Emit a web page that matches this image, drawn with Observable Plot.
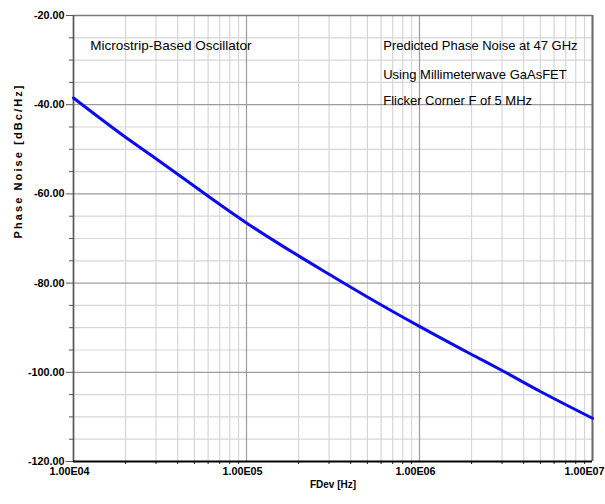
<!DOCTYPE html>
<html>
<head>
<meta charset="utf-8">
<script src="https://cdn.jsdelivr.net/npm/d3@7"></script>
<script src="https://cdn.jsdelivr.net/npm/@observablehq/plot@0.6"></script>
<style>
  html, body { margin: 0; padding: 0; background: #ffffff; }
  #chart { width: 605px; height: 504px; }
</style>
</head>
<body>
<div id="chart"></div>
<script>
// Data
const freqHz = [1e4, 2e4, 3e4, 5e4, 1e5, 2e5, 3e5, 5e5, 1e6, 2e6, 3e6, 5e6, 1e7];
const phaseNoise = [-38.5, -47.3, -52.1, -58.3, -66.5, -73.9, -78.0, -83.1, -89.7, -96.0, -99.6, -104.3, -110.3];

// Tick values and labels
const xMajorTicks = [1e4, 1e5, 1e6, 1e7];
const xTickLabels = ["1.00E04", "1.00E05", "1.00E06", "1.00E07"];
const xMinorMultipliers = [2, 3, 4, 5, 6, 7, 8, 9];
const yMajorTicks = [-120, -100, -80, -60, -40, -20];
const yTickLabels = ["-120.00", "-100.00", "-80.00", "-60.00", "-40.00", "-20.00"];
const yMinorTicks = [-115, -110, -105, -95, -90, -85, -75, -70, -65, -55, -50, -45, -35, -30, -25];

// Text
const xTitle = "FDev [Hz]";
const yTitle = "Phase Noise [dBc/Hz]";
const leftNote = "Microstrip-Based Oscillator";
const rightNotes = ["Predicted Phase Noise at 47 GHz", "Using Millimeterwave GaAsFET", "Flicker Corner F of 5 MHz"];

const rows = freqHz.map((f, i) => ({f, pn: phaseNoise[i]}));
const xMinorTicks = xMajorTicks.slice(0, -1).flatMap(d => xMinorMultipliers.map(m => m * d));
const labelOf = d => xTickLabels[xMajorTicks.indexOf(d)];

const font = "'Liberation Sans', Arial, sans-serif";

const chart = Plot.plot({
  width: 605,
  height: 504,
  marginLeft: 73,
  marginRight: 13,
  marginTop: 15,
  marginBottom: 43,
  style: {fontFamily: font, fontSize: "11px", color: "#000", background: "#fff"},
  x: {type: "log", domain: [1e4, 1e7]},
  y: {domain: [-120, -20]},
  marks: [
    // minor grid
    Plot.ruleY(yMinorTicks, {stroke: "#d6d6d6", strokeWidth: 1.2}),
    Plot.ruleX(xMinorTicks, {stroke: "#d6d6d6", strokeWidth: 1.2}),
    // major grid
    Plot.ruleY(yMajorTicks, {stroke: "#9c9c9c", strokeWidth: 1.2}),
    Plot.ruleX(xMajorTicks, {stroke: "#9c9c9c", strokeWidth: 1.2}),
    // frame
    Plot.ruleY([-20], {stroke: "#7a7a7a", strokeWidth: 1.6}),
    Plot.ruleX([1e7], {stroke: "#6a6a6a", strokeWidth: 2}),
    Plot.ruleX([1e4], {stroke: "#555", strokeWidth: 1.6}),
    // y axis ticks
    Plot.axisY({ticks: yMinorTicks, tickSize: 4, tickFormat: () => "", stroke: "#555", label: null}),
    Plot.axisY({ticks: yMajorTicks, tickSize: 7, tickPadding: 2, stroke: "#555",
      tickFormat: d => yTickLabels[yMajorTicks.indexOf(d)], fontWeight: "bold", fontSize: 10.8, label: null}),
    // x axis ticks
    Plot.axisX({ticks: xMinorTicks, tickSize: 3, tickFormat: () => "", stroke: "#222", label: null}),
    Plot.axisX({ticks: xMajorTicks.slice(0, -1), tickSize: 0, tickPadding: 6, dx: -4,
      tickFormat: labelOf, fontWeight: "bold", fontSize: 10.8, label: null}),
    Plot.axisX({ticks: xMajorTicks.slice(-1), tickSize: 0, tickPadding: 6, dx: -8,
      tickFormat: labelOf, fontWeight: "bold", fontSize: 10.8, label: null}),
    Plot.ruleY([-120], {stroke: "#000", strokeWidth: 2.2}),
    // curve
    Plot.line(rows, {x: "f", y: "pn", stroke: "#0b0bea", strokeWidth: 3, curve: "monotone-x"}),
    // axis titles
    Plot.text([xTitle], {frameAnchor: "bottom", dy: 26, fontWeight: "bold", fontSize: 10, fill: "#000"}),
    Plot.text([yTitle], {frameAnchor: "left", dx: -55, rotate: -90, fontWeight: "bold", fontSize: 11, fill: "#000"}),
    // notes
    Plot.text([leftNote], {x: 1.25e4, y: -26.7, textAnchor: "start", fontSize: 13.5, fill: "#000"}),
    Plot.text(rightNotes, {x: 6.17e5, y: (d, i) => [-26.7, -33.2, -39.1][i], textAnchor: "start", fontSize: 13, fill: "#000"})
  ]
});

d3.select(chart).selectAll("text")
  .filter(function() { return this.textContent === yTitle; })
  .attr("letter-spacing", "2.1px");

document.getElementById("chart").appendChild(chart);
</script>
</body>
</html>
